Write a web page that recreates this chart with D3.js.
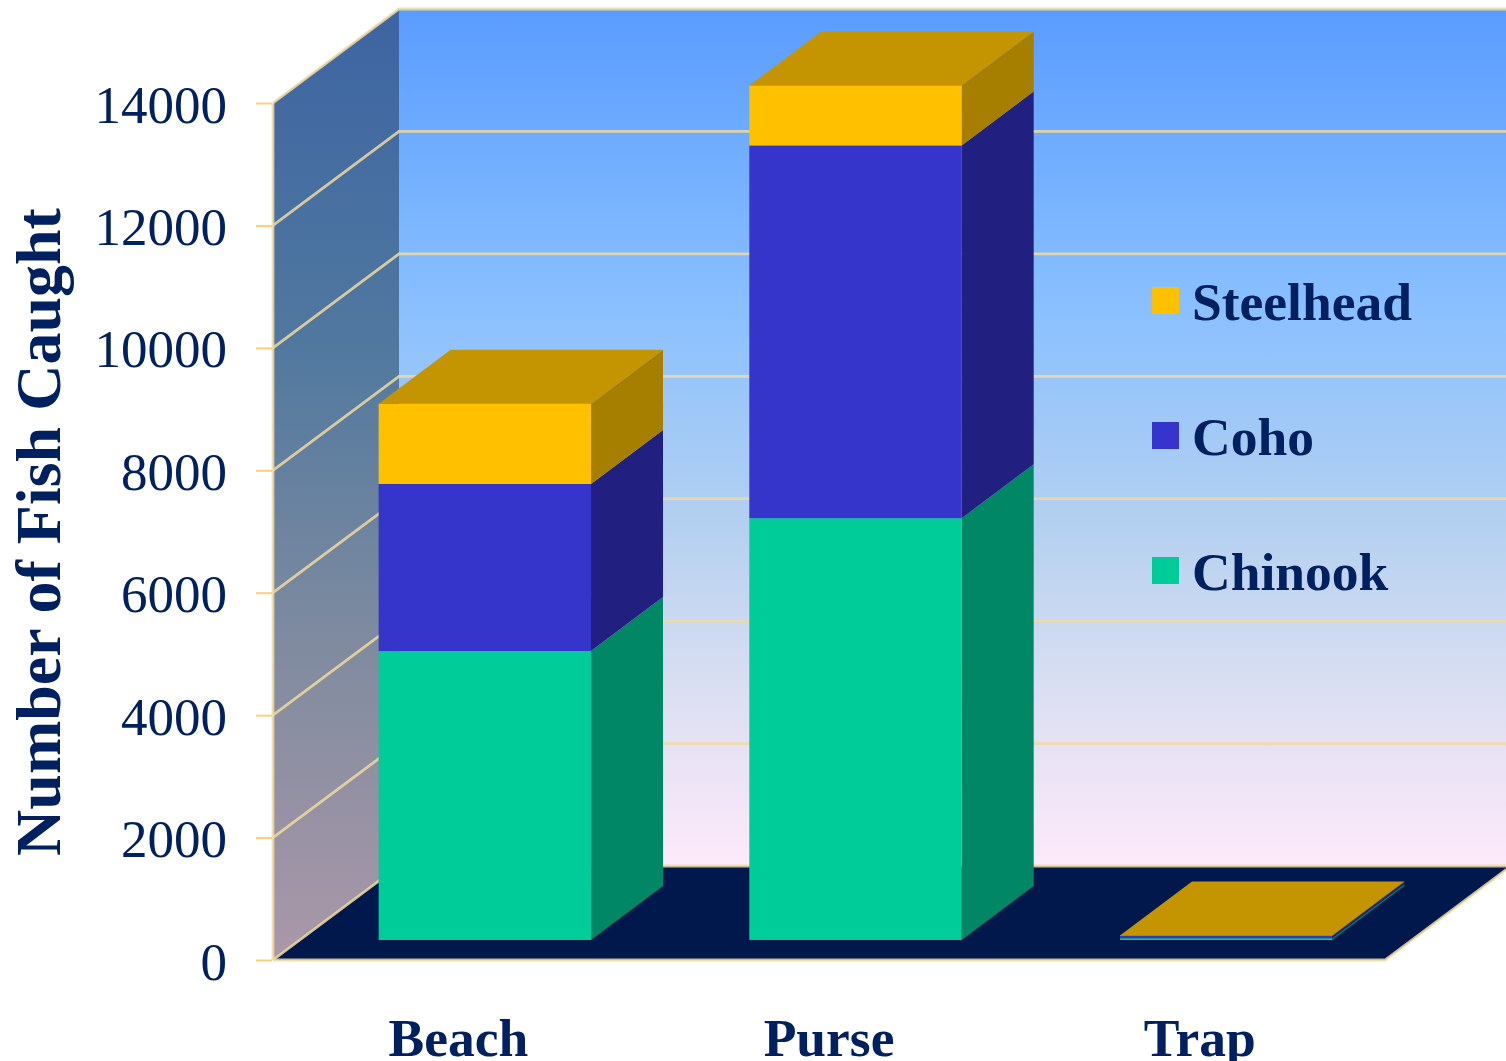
<!DOCTYPE html>
<html>
<head>
<meta charset="utf-8">
<script src="https://cdn.jsdelivr.net/npm/d3@7"></script>
<style>
body { margin: 0; background: #fff; overflow: hidden; }
text { font-family: "Liberation Serif", serif; fill: #002060; }
</style>
</head>
<body>
<div id="chart"></div>
<script>
// data
const gears = ["Beach", "Purse", "Trap"]
const species = ["Chinook", "Coho", "Steelhead"]
const chinook = [4720, 6890, 30]
const coho = [2730, 6090, 35]
const steelhead = [1310, 980, 10]
const yTicks = [0, 2000, 4000, 6000, 8000, 10000, 12000, 14000]

const rows = gears.map((g, i) => ({ gear: g, Chinook: chinook[i], Coho: coho[i], Steelhead: steelhead[i] }))

const width = 1506
const height = 1061
const left = 273
const bottom = 960
const top14k = 103
const plotWidth = 1112
// 3d offsets
const wallDx = 126
const wallDy = -94
const barInDx = 26.5
const barInDy = -20
const barDx = 72
const barDy = -54

const front = { Chinook: "#00cc99", Coho: "#3535cc", Steelhead: "#ffc000" }
const side = { Chinook: "#008866", Coho: "#212080", Steelhead: "#a67e00" }
const topFace = "#c49500"
const gridColor = "#f0d9a0"

const svg = d3.select("div#chart").append("svg").attr("width", width).attr("height", height).style("display", "block")

const x = d3.scaleBand().domain(gears).range([left, left + plotWidth]).paddingInner(0.427).paddingOuter(0.2135)
const y = d3.scaleLinear().domain([0, 14000]).range([bottom, top14k])

const defs = svg.append("defs")
const backGrad = defs.append("linearGradient").attr("id", "backWall").attr("x1", 0).attr("y1", 0).attr("x2", 0).attr("y2", 1)
backGrad.selectAll("stop").data([["0%", "#5a9cff"], ["35%", "#8ac0ff"], ["60%", "#b4d0f0"], ["80%", "#dcdff2"], ["100%", "#fdeafa"]])
    .join("stop").attr("offset", d => d[0]).attr("stop-color", d => d[1])
const sideGrad = defs.append("linearGradient").attr("id", "sideWall").attr("x1", 0).attr("y1", 0).attr("x2", 0).attr("y2", 1)
sideGrad.selectAll("stop").data([["0%", "#3d64a2"], ["35%", "#50789f"], ["65%", "#7d8a9f"], ["100%", "#aa98a8"]])
    .join("stop").attr("offset", d => d[0]).attr("stop-color", d => d[1])

const poly = pts => pts.map(p => p.join(",")).join(" ")

// walls
const yTop = y(14000)
svg.append("rect").attr("x", left + wallDx).attr("y", yTop + wallDy).attr("width", plotWidth + 10).attr("height", bottom - yTop)
    .attr("fill", "url(#backWall)")
svg.append("polygon")
    .attr("points", poly([[left, bottom], [left, yTop], [left + wallDx, yTop + wallDy], [left + wallDx, bottom + wallDy]]))
    .attr("fill", "url(#sideWall)")
svg.append("polygon")
    .attr("points", poly([[left, bottom], [left + plotWidth, bottom], [left + plotWidth + wallDx, bottom + wallDy], [left + wallDx, bottom + wallDy]]))
    .attr("fill", "#00184c")

// gridlines, side wall then back wall
const grid = svg.append("g").attr("fill", "none").attr("stroke", gridColor).attr("stroke-opacity", 0.85).attr("stroke-width", 2.8)
grid.selectAll("polyline").data(yTicks).join("polyline")
    .attr("points", d => poly([[left, y(d)], [left + wallDx, y(d) + wallDy], [left + plotWidth + wallDx, y(d) + wallDy]]))
// floor edges
grid.append("polyline")
    .attr("points", poly([[left, bottom], [left + plotWidth, bottom], [left + plotWidth + wallDx, bottom + wallDy]]))
grid.append("line").attr("x1", left).attr("y1", bottom).attr("x2", left).attr("y2", yTop)

// bars
const stacked = d3.stack().keys(species)(rows)
const barGroup = svg.append("g").attr("transform", `translate(${barInDx}, ${barInDy})`)
const bw = x.bandwidth()
stacked.forEach(layer => {
    const g = barGroup.append("g").attr("class", layer.key)
    g.selectAll("polygon").data(layer).join("polygon")
        .attr("fill", side[layer.key])
        .attr("points", d => {
            const xr = x(d.data.gear) + bw
            return poly([[xr, y(d[0])], [xr, y(d[1])], [xr + barDx, y(d[1]) + barDy], [xr + barDx, y(d[0]) + barDy]])
        })
    g.selectAll("rect").data(layer).join("rect")
        .attr("fill", front[layer.key])
        .attr("x", d => x(d.data.gear))
        .attr("width", bw)
        .attr("y", d => y(d[1]))
        .attr("height", d => y(d[0]) - y(d[1]))
})
const lastLayer = stacked[stacked.length - 1]
barGroup.append("g").selectAll("polygon").data(lastLayer).join("polygon")
    .attr("fill", topFace)
    .attr("points", d => {
        const xl = x(d.data.gear), t = y(d[1])
        return poly([[xl, t], [xl + bw, t], [xl + bw + barDx, t + barDy], [xl + barDx, t + barDy]])
    })

// axes
const yAxis = d3.axisLeft(y).tickValues(yTicks).tickFormat(d3.format("d")).tickSize(16).tickPadding(29)
const yAxisGroup = svg.append("g").attr("transform", `translate(${left - 1}, 0)`).call(yAxis)
yAxisGroup.select(".domain").remove()
yAxisGroup.selectAll(".tick line").attr("stroke", "#ffcc80").attr("stroke-width", 2)
yAxisGroup.selectAll("text").attr("font-size", 53).attr("fill", "#002060").attr("font-family", "Liberation Serif").attr("dy", 19)

// the reference cuts these labels at the bottom edge too
const xAxis = d3.axisBottom(x).tickSize(0).tickPadding(58)
const xAxisGroup = svg.append("g").attr("transform", `translate(0, ${bottom})`).call(xAxis)
xAxisGroup.select(".domain").remove()
xAxisGroup.selectAll("text").attr("font-size", 53.5).attr("font-weight", "bold").attr("fill", "#002060").attr("font-family", "Liberation Serif")

svg.append("text").text("Number of Fish Caught")
    .attr("transform", "translate(60, 532) rotate(-90)")
    .attr("text-anchor", "middle")
    .attr("font-size", 64).attr("font-weight", "bold")

// legend
const legendY = d3.scalePoint().domain(["Steelhead", "Coho", "Chinook"]).range([320, 590])
const legend = svg.append("g").selectAll("g").data(legendY.domain()).join("g")
    .attr("transform", d => `translate(1152, ${legendY(d)})`)
legend.append("rect").attr("y", -33).attr("width", 27).attr("height", 27).attr("fill", d => front[d])
legend.append("text").text(d => d).attr("x", 40).attr("font-size", 53.5).attr("font-weight", "bold")
</script>
</body>
</html>
